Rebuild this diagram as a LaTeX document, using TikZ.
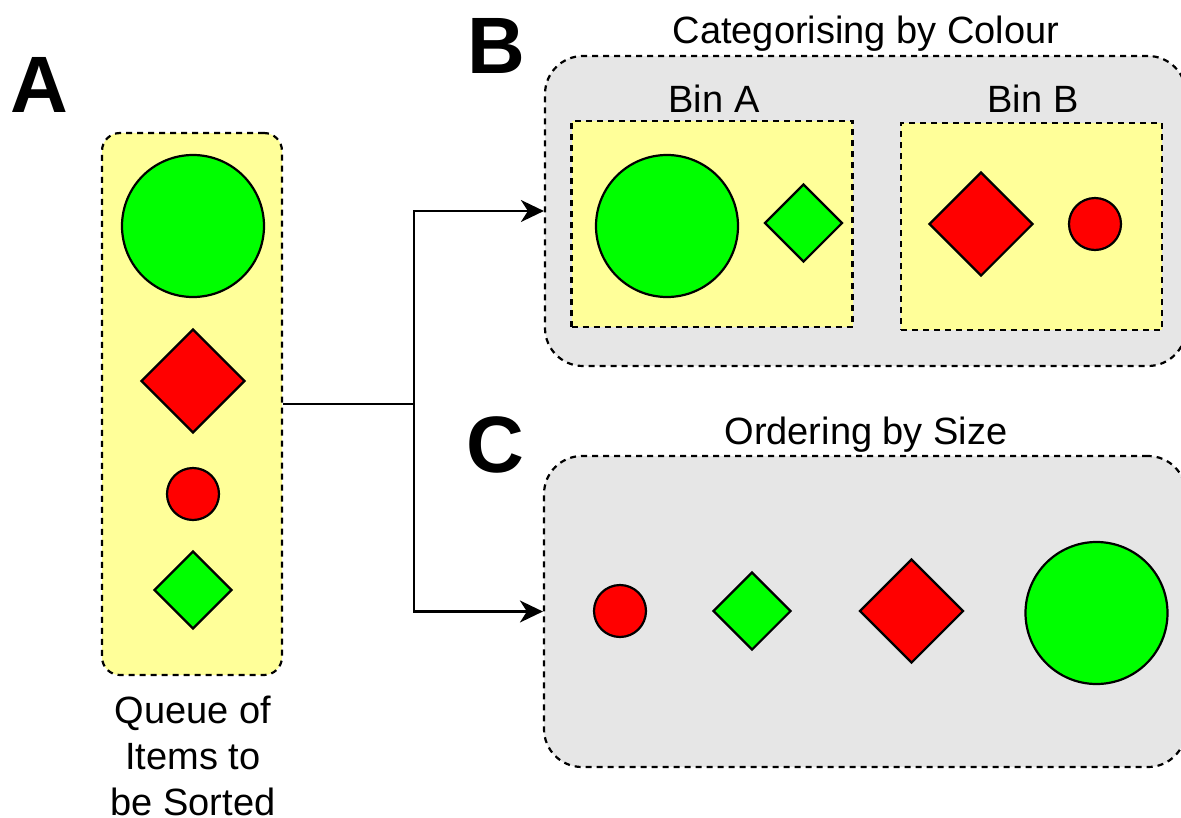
\documentclass[tikz,border=0pt]{standalone}
\usepackage{fontspec}
\setmainfont{Liberation Sans}
\usetikzlibrary{shapes.geometric,arrows.meta}

\definecolor{binyellow}{HTML}{FFFF99}
\definecolor{panelgray}{HTML}{E6E6E6}
\definecolor{itemgreen}{HTML}{00FF00}
\definecolor{itemred}{HTML}{FF0000}

\tikzset{
  item/.style={draw=black,line width=2.2pt,inner sep=0pt},
  bigdot/.style={item,circle,minimum size=142pt,fill=itemgreen},
  smalldot/.style={item,circle,minimum size=52pt,fill=itemred},
  bigdia/.style={item,diamond,aspect=1,minimum width=104pt,minimum height=104pt,fill=itemred},
  smalldia/.style={item,diamond,aspect=1,minimum width=78pt,minimum height=78pt,fill=itemgreen},
  boxline/.style={draw=black,line width=2.2pt,dash pattern=on 6pt off 5pt,inner sep=0pt},
  panel/.style={boxline,fill=panelgray,rounded corners=38pt},
  bin/.style={boxline,fill=binyellow},
  label/.style={inner sep=0pt,anchor=base,font=\fontsize{38pt}{46pt}\selectfont},
  letter/.style={inner sep=0pt,anchor=base,font=\fontsize{80pt}{80pt}\selectfont\bfseries},
  flow/.style={draw=black,line width=2.2pt},
  tip/.style={-{Stealth[length=23pt,width=22pt,inset=7pt]}},
}

\begin{document}
\begin{tikzpicture}[x=1pt,y=-1pt]
  \useasboundingbox (0,0) rectangle (1181,817);

  % panel letters
  \node[letter] (letA) at (39,112) {A};
  \node[letter] (letB) at (496,73) {B};
  \node[letter] (letC) at (495,472) {C};

  % A: the queue
  \node[bin,rounded corners=18pt,minimum width=180pt,minimum height=542pt] (queue) at (192,404) {};
  \node[bigdot]   (q1) at (193,226) {};
  \node[bigdia]   (q2) at (193,381) {};
  \node[smalldot] (q3) at (193,494) {};
  \node[smalldia] (q4) at (193,590) {};
  \node[label,align=center] (qlabel) at (193,815) {Queue of\\Items to\\be Sorted};

  % B: categorising by colour
  \node[panel,minimum width=641pt,minimum height=310pt] (catbox) at (865.5,211) {};
  \node[label] (cattitle) at (866,43) {Categorising by Colour};
  \node[bin,minimum width=281pt,minimum height=206pt] (binA) at (712,224) {};
  \node[bin,minimum width=261pt,minimum height=207pt] (binB) at (1031.5,226.5) {};
  \node[label] (binAlabel) at (714,112) {Bin A};
  \node[label] (binBlabel) at (1033,112) {Bin B};
  \node[bigdot]   (a1) at (667,226) {};
  \node[smalldia] (a2) at (803.5,223) {};
  \node[bigdia]   (b1) at (981,224) {};
  \node[smalldot] (b2) at (1095,224) {};

  % C: ordering by size
  \node[panel,minimum width=642pt,minimum height=311pt] (ordbox) at (865,611.5) {};
  \node[label] (ordtitle) at (866,444) {Ordering by Size};
  \node[smalldot] (c1) at (620,611) {};
  \node[smalldia] (c2) at (752,611) {};
  \node[bigdia]   (c3) at (911.5,611) {};
  \node[bigdot]   (c4) at (1096.5,613) {};

  % connectors
  \coordinate (split) at (414,404);
  \draw[flow] (queue.east) -- (split);
  \draw[flow,tip] (split) |- (catbox.west);
  \draw[flow,tip] (split) |- (ordbox.west);
\end{tikzpicture}
\end{document}
